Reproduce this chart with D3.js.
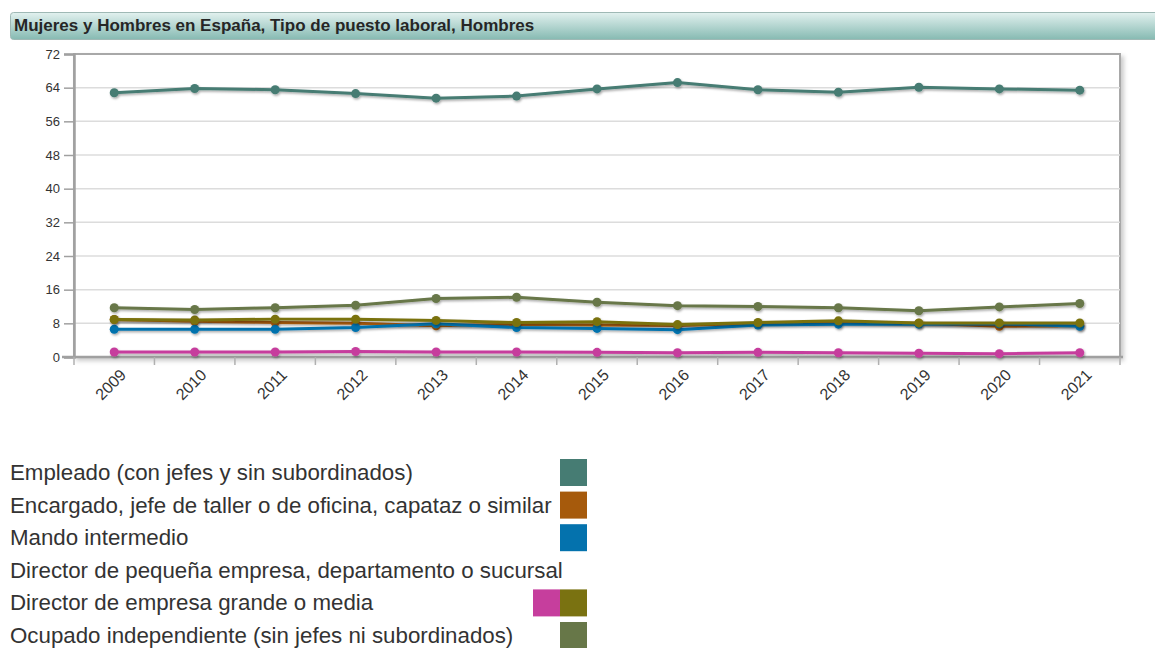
<!DOCTYPE html>
<html>
<head>
<meta charset="utf-8">
<script src="https://cdn.jsdelivr.net/npm/d3@7"></script>
<style>
  html, body { margin: 0; padding: 0; background: #fff; }
  body { width: 1155px; height: 648px; overflow: hidden; font-family: "Liberation Sans", Arial, sans-serif; }
  svg { display: block; }
</style>
</head>
<body>
<svg id="chart" width="1155" height="648"></svg>
<script>
const title = "Mujeres y Hombres en España, Tipo de puesto laboral, Hombres";

const years = ["2009", "2010", "2011", "2012", "2013", "2014", "2015", "2016", "2017", "2018", "2019", "2020", "2021"];
const yTicks = [0, 8, 16, 24, 32, 40, 48, 56, 64, 72];

const seriesNames = [
  "Empleado (con jefes y sin subordinados)",
  "Encargado, jefe de taller o de oficina, capataz o similar",
  "Mando intermedio",
  "Director de pequeña empresa, departamento o sucursal",
  "Director de empresa grande o media",
  "Ocupado independiente (sin jefes ni subordinados)"
];
const seriesColors = ["#467c73", "#a65a0c", "#0472ad", "#7a7211", "#c63e9d", "#677748"];

const empleado = [62.8, 63.8, 63.5, 62.6, 61.5, 62.0, 63.7, 65.2, 63.5, 62.9, 64.1, 63.7, 63.4];
const encargado = [8.9, 8.5, 8.2, 8.0, 7.4, 7.8, 7.6, 7.5, 8.0, 8.2, 8.0, 7.3, 7.4];
const mando = [6.6, 6.6, 6.6, 7.0, 7.9, 7.0, 6.8, 6.5, 7.6, 7.8, 7.8, 7.9, 7.3];
const directorPeq = [8.9, 8.8, 9.0, 9.0, 8.7, 8.2, 8.4, 7.7, 8.2, 8.6, 8.1, 8.1, 8.1];
const directorGrande = [1.2, 1.2, 1.2, 1.3, 1.2, 1.2, 1.1, 1.0, 1.1, 1.0, 0.9, 0.8, 1.0];
const independiente = [11.7, 11.3, 11.7, 12.3, 13.9, 14.2, 13.0, 12.2, 12.0, 11.7, 11.0, 11.9, 12.7];

const seriesValues = [empleado, encargado, mando, directorPeq, directorGrande, independiente];

const svg = d3.select("#chart");
const defs = svg.append("defs");

// title bar
const grad = defs.append("linearGradient").attr("id", "titleGrad")
  .attr("x1", 0).attr("y1", 0).attr("x2", 0).attr("y2", 1);
grad.append("stop").attr("offset", "0%").attr("stop-color", "#e2f1ef");
grad.append("stop").attr("offset", "100%").attr("stop-color", "#86bab2");

const shadow = defs.append("filter").attr("id", "shadow")
  .attr("x", "-5%").attr("y", "-50%").attr("width", "110%").attr("height", "200%");
shadow.append("feDropShadow").attr("dx", 1).attr("dy", 1.5)
  .attr("stdDeviation", 1).attr("flood-color", "#000").attr("flood-opacity", 0.35);

const frameShadow = defs.append("filter").attr("id", "frameShadow")
  .attr("x", "-2%").attr("y", "-2%").attr("width", "104%").attr("height", "106%");
frameShadow.append("feDropShadow").attr("dx", 3).attr("dy", 3)
  .attr("stdDeviation", 2).attr("flood-color", "#000").attr("flood-opacity", 0.2);

svg.append("rect")
  .attr("x", 10.5).attr("y", 12.5).attr("width", 1160).attr("height", 27)
  .attr("rx", 3).attr("fill", "url(#titleGrad)")
  .attr("stroke", "#9fb9b5");

svg.append("text")
  .attr("x", 14).attr("y", 31)
  .attr("font-size", 17).attr("font-weight", "bold").attr("fill", "#262626")
  .text(title);

// plot
const margin = { left: 74, right: 1120, top: 54, bottom: 357 };

const x = d3.scaleBand().domain(years).range([margin.left, margin.right]);
const y = d3.scaleLinear().domain([0, 72]).range([margin.bottom, margin.top]);

const g = svg.append("g");

// frame (top and right) with soft shadow
g.append("rect")
  .attr("x", margin.left).attr("y", margin.top)
  .attr("width", margin.right - margin.left).attr("height", margin.bottom - margin.top)
  .attr("fill", "#fff").attr("stroke", "#a8a8a8").attr("stroke-width", 2)
  .attr("filter", "url(#frameShadow)");

// gridlines
g.append("g")
  .selectAll("line")
  .data(yTicks.filter(t => t > 0 && t < 72))
  .join("line")
  .attr("x1", margin.left).attr("x2", margin.right)
  .attr("y1", d => y(d)).attr("y2", d => y(d))
  .attr("stroke", "#dcdcdc").attr("stroke-width", 1.5);

// y axis
const yAxis = g.append("g")
  .attr("transform", `translate(${margin.left},0)`)
  .call(d3.axisLeft(y).tickValues(yTicks).tickSize(10).tickPadding(4));
yAxis.select(".domain").attr("stroke", "#a0a0a0").attr("stroke-width", 2.5);
yAxis.selectAll(".tick line").attr("stroke", "#a0a0a0").attr("stroke-width", 1.5);
yAxis.selectAll(".tick text")
  .attr("font-family", "'Liberation Sans', Arial, sans-serif")
  .attr("font-size", 13).attr("fill", "#333");

// x axis: ticks at band edges
const edges = years.map(d => x(d)).concat([margin.right]);
const xAxis = g.append("g");
xAxis.append("line")
  .attr("x1", margin.left - 12).attr("x2", margin.right + 3)
  .attr("y1", margin.bottom).attr("y2", margin.bottom)
  .attr("stroke", "#a0a0a0").attr("stroke-width", 2.5);
xAxis.selectAll("line.tk")
  .data(edges)
  .join("line")
  .attr("class", "tk")
  .attr("x1", d => d).attr("x2", d => d)
  .attr("y1", margin.bottom).attr("y2", margin.bottom + 8)
  .attr("stroke", "#b0b0b0").attr("stroke-width", 1.5);
xAxis.selectAll("text")
  .data(years)
  .join("text")
  .attr("transform", d => `translate(${x(d) + x.bandwidth() / 2 + 5},${margin.bottom + 11}) rotate(-45)`)
  .attr("text-anchor", "end")
  .attr("dy", "0.7em")
  .attr("font-size", 16).attr("fill", "#333")
  .text(d => d);

// lines
const line = d3.line()
  .x((d, i) => x(years[i]) + x.bandwidth() / 2)
  .y(d => y(d));

const series = g.append("g").selectAll("g")
  .data(seriesValues.map((v, i) => ({ name: seriesNames[i], color: seriesColors[i], values: v })))
  .join("g")
  .attr("filter", "url(#shadow)");

series.append("path")
  .attr("d", d => line(d.values))
  .attr("fill", "none")
  .attr("stroke", d => d.color)
  .attr("stroke-width", 3)
  .attr("stroke-linejoin", "round");

series.selectAll("circle")
  .data(d => d.values.map((v, i) => ({ v, i, color: d.color })))
  .join("circle")
  .attr("cx", d => x(years[d.i]) + x.bandwidth() / 2)
  .attr("cy", d => y(d.v))
  .attr("r", 4.5)
  .attr("fill", d => d.color);

// legend: text left, swatch floated right; a swatch that does not fit drops to the next row
const legend = svg.append("g");
const legendLeft = 10, legendRight = 587, swW = 27, swH = 27, rowH = 32.6, legendTop = 459;
let carried = [];
seriesNames.forEach((name, i) => {
  const rowY = legendTop + i * rowH;
  const t = legend.append("text")
    .attr("x", legendLeft).attr("y", rowY + swH / 2)
    .attr("dy", "0.34em")
    .attr("font-size", 22.3).attr("fill", "#333")
    .text(name);
  const w = t.node().getComputedTextLength();
  let slot = 0;
  carried.forEach(c => {
    slot++;
    legend.append("rect")
      .attr("x", legendRight - swW * slot).attr("y", rowY)
      .attr("width", swW).attr("height", swH).attr("fill", c);
  });
  carried = [];
  const sx = legendRight - swW * (slot + 1);
  if (legendLeft + w <= sx) {
    legend.append("rect")
      .attr("x", sx).attr("y", rowY)
      .attr("width", swW).attr("height", swH).attr("fill", seriesColors[i]);
  } else {
    carried.push(seriesColors[i]);
  }
});
</script>
</body>
</html>
